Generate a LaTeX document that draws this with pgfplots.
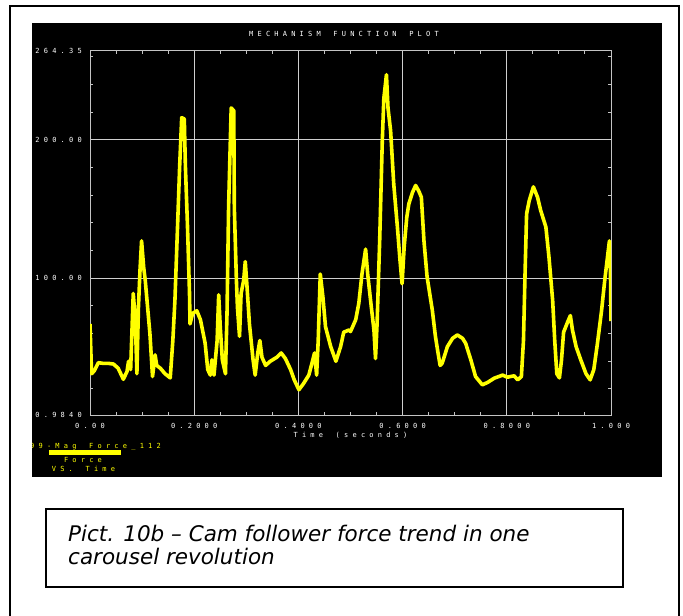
\documentclass[border=0pt]{standalone}
\usepackage{pgfplots}
\pgfplotsset{compat=1.18}
\usepackage{fontspec}
\newfontfamily\pro{DejaVu Sans Mono}
\newfontfamily\capfont{DejaVu Sans}[ItalicFont={DejaVu Sans Oblique}]
\definecolor{axgrey}{HTML}{C4C4C4}
\definecolor{grgrey}{HTML}{CFCFCF}
\definecolor{yel}{HTML}{FFFF00}
\newcommand{\pf}{\pro\fontsize{7}{8}\selectfont}
\begin{document}
\begin{tikzpicture}
% outer frame
\draw[line width=2pt] (10.3pt,-10pt) -- (10.3pt,610.2pt) -- (679pt,610.2pt) -- (679pt,-10pt);
% black background
\fill[black] (32pt,139pt) rectangle (661.5pt,593pt);
% title
\node[text=white, font=\pf, inner sep=0pt] at (344pt,582pt) {M~E~C~H~A~N~I~S~M~~~F~U~N~C~T~I~O~N~~~P~L~O~T};
\begin{axis}[
  at={(90pt,200.7pt)}, anchor=south west,
  scale only axis, width=521pt, height=364.6pt,
  xmin=0, xmax=1, ymin=0.984, ymax=264.35,
  axis line style={draw=axgrey, line width=1pt},
  xtick={0,0.2,0.4,0.6,0.8,1},
  xticklabels={0~.~0~0,0~.~2~0~0~0,0~.~4~0~0~0,0~.~6~0~0~0,0~.~8~0~0~0,1~.~0~0~0},
  ytick={0.984,100,200,264.35},
  yticklabels={0~.~9~8~4~0,1~0~0~.~0~0,2~0~0~.~0~0,2~6~4~.~3~5},
  minor xtick={0.05,0.1,0.15,0.25,0.3,0.35,0.45,0.5,0.55,0.65,0.7,0.75,0.85,0.9,0.95},
  minor ytick={20,40,60,80,120,140,160,180,220,240,260},
  major tick length=0pt, minor tick length=3pt,
  tick style={draw=axgrey, line width=1pt},
  grid=major,
  major grid style={draw=grgrey, line width=0.9pt},
  tick label style={font=\pf, text=white},
  xticklabel style={anchor=center, inner sep=0pt, yshift=-11pt},
  yticklabel style={anchor=east, inner sep=0pt, xshift=-8pt},
  xlabel={T~i~m~e~~~(~s~e~c~o~n~d~s~)},
  xlabel style={at={(axis description cs:0.5,0)}, anchor=center, yshift=-20pt, font=\pf, text=white, inner sep=0pt},
]
\addplot[yel, line width=3.6pt, line join=round] coordinates {
(0.000,67) (0.003,31) (0.008,33) (0.016,39) (0.025,38.5) (0.035,38.5) (0.045,38)
(0.054,35) (0.064,27) (0.071,32.6) (0.074,40) (0.078,34) (0.083,89) (0.087,70)
(0.090,31) (0.093,79) (0.096,106) (0.099,127) (0.103,108) (0.106,98.6) (0.115,60)
(0.120,29) (0.125,44.6) (0.128,37) (0.135,35) (0.144,31) (0.154,28) (0.159,55)
(0.163,84) (0.168,137) (0.172,180) (0.176,216) (0.181,215) (0.183,182) (0.187,139)
(0.191,89) (0.192,67) (0.197,74.6) (0.205,76.5) (0.212,70) (0.221,53) (0.226,34)
(0.231,30) (0.234,41) (0.238,30) (0.244,55) (0.247,88) (0.250,65) (0.254,41)
(0.260,31) (0.263,75) (0.266,151) (0.271,223) (0.276,221) (0.277,151) (0.281,98.6)
(0.283,79) (0.287,58) (0.290,89) (0.295,98.6) (0.298,112) (0.301,96) (0.306,67)
(0.313,41) (0.317,30) (0.322,46) (0.326,55) (0.330,43) (0.337,37) (0.346,40)
(0.359,43) (0.367,46) (0.375,42) (0.385,34) (0.392,26.6) (0.401,19.4) (0.410,24)
(0.420,30) (0.426,38.6) (0.431,46) (0.435,30) (0.438,55) (0.442,103) (0.447,86.6)
(0.452,65) (0.462,50.6) (0.472,40) (0.481,50.6) (0.487,61) (0.497,62.6) (0.500,61.5)
(0.510,70) (0.516,82) (0.522,103) (0.529,121) (0.533,103) (0.540,79) (0.545,62.6)
(0.548,42) (0.551,67) (0.556,127) (0.561,199) (0.564,230) (0.569,247) (0.572,223)
(0.577,206.5) (0.583,168) (0.590,137) (0.595,113) (0.599,96) (0.603,122.5) (0.608,144)
(0.612,153.7) (0.619,162) (0.625,167) (0.631,163) (0.636,158.5) (0.641,127) (0.647,101)
(0.657,77) (0.663,58) (0.668,46) (0.672,37) (0.676,38.6) (0.686,50.6) (0.696,56.6)
(0.705,59) (0.715,56.6) (0.721,53) (0.731,41) (0.740,29) (0.753,23) (0.763,24.7)
(0.776,27.8) (0.792,30) (0.801,28.5) (0.814,29.5) (0.821,26.6) (0.828,29) (0.832,55)
(0.835,103) (0.838,146.5) (0.843,156) (0.851,166) (0.859,158.5) (0.865,149) (0.875,137)
(0.881,115) (0.888,84) (0.892,55) (0.896,31) (0.901,28) (0.905,41) (0.909,61)
(0.917,68.6) (0.922,73) (0.926,62.6) (0.933,50.6) (0.942,41) (0.952,31) (0.960,26.6)
(0.967,34) (0.974,53) (0.982,77) (0.988,98.6) (0.994,117.7) (0.997,127) (0.999,103)
(1.000,69)
};
\end{axis}
% legend
\begin{scope}
\clip (32pt,139pt) rectangle (661.5pt,593pt);
\node[anchor=west, text=yel, font=\pf, inner sep=0pt] at (30pt,169.3pt) {9~9~-~M~a~g~~~F~o~r~c~e~\_~1~1~2};
\end{scope}
\draw[yel, line width=4.5pt] (49pt,163.5pt) -- (121pt,163.5pt);
\node[text=yel, font=\pf, inner sep=0pt] at (83pt,156pt) {F~o~r~c~e};
\node[text=yel, font=\pf, inner sep=0pt] at (83.5pt,147.3pt) {V~S~.~~~T~i~m~e};
% caption box
\draw[line width=1.5pt] (46pt,29pt) rectangle (623pt,107pt);
\node[anchor=base west, inner sep=0pt, font=\capfont\itshape\fontsize{21.5}{24}\selectfont] at (68pt,74pt) {Pict. 10b – Cam follower force trend in one};
\node[anchor=base west, inner sep=0pt, font=\capfont\itshape\fontsize{21.5}{24}\selectfont] at (68pt,51pt) {carousel revolution};
\pgfresetboundingbox
\path[use as bounding box] (0,0) rectangle (683pt,616pt);
\end{tikzpicture}
\end{document}
